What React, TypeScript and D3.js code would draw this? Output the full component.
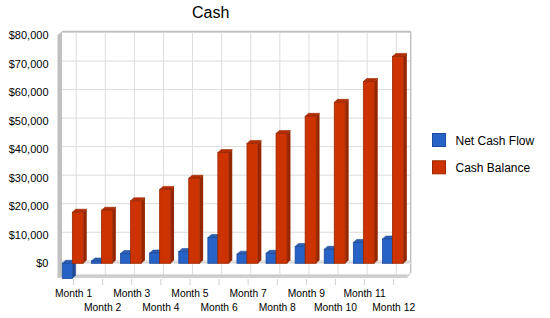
import React from "react";
import * as d3 from "d3";

const months = ["Month 1","Month 2","Month 3","Month 4","Month 5","Month 6","Month 7","Month 8","Month 9","Month 10","Month 11","Month 12"];
const netCashFlow = [-5300, 800, 3400, 3600, 4100, 9000, 3200, 3500, 5900, 4900, 7300, 8500];
const cashBalance = [17900, 18600, 21900, 25900, 29800, 38800, 42000, 45500, 51500, 56400, 63700, 72500];
const yTicks = [0, 10000, 20000, 30000, 40000, 50000, 60000, 70000, 80000];
const seriesNames = ["Net Cash Flow", "Cash Balance"];

const W = 550, H = 318;
const font = "'Liberation Sans', Arial, sans-serif";

const colors = [
  { front: "#2763c6", side: "#1b4794", top: "#2f5fb0", stroke: "#1d4a9c" },
  { front: "#cc3300", side: "#962600", top: "#b32d00", stroke: "#9a2800" },
];

export default function App() {
  const x = d3.scaleBand<string>().domain(months).range([58, 407.2]);
  const y = d3.scaleLinear().domain([0, 80000]).range([263.3, 35]);
  const bw = x.bandwidth();
  const fmt = (v: number) => "$" + d3.format(",")(v);
  const backL = 62, backR = 410.7, backT = 31.5, floorBack = 262.5, floorFront = 275, floorBottom = 278;
  const gy = (v: number) => y(v) - 2.5;
  const sideW = 3.4, topH = 3;

  const bar = (cx: number, v: number, s: number, key: string) => {
    const c = colors[s];
    const x0 = s === 0 ? cx - 10.2 : cx - 0.2;
    const x1 = s === 0 ? cx - 0.2 : cx + 10.8;
    const y0 = y(0);
    const yv = y(v);
    const top = Math.min(y0, yv), bot = Math.max(y0, yv);
    return (
      <g key={key}>
        <polygon points={`${x1},${top} ${x1 + sideW},${top - topH} ${x1 + sideW},${bot - topH} ${x1},${bot}`} fill={c.side} />
        <polygon points={`${x0},${top} ${x0 + sideW},${top - topH} ${x1 + sideW},${top - topH} ${x1},${top}`} fill={c.top} stroke={c.stroke} strokeWidth={0.6} />
        <rect x={x0} y={top} width={x1 - x0} height={bot - top} fill={c.front} stroke={c.stroke} strokeWidth={0.8} />
      </g>
    );
  };

  return (
    <div style={{ position: "fixed", left: 0, top: 0 }}>
      <svg width={W} height={H} style={{ display: "block", background: "#fff" }}>
        <text x={210.7} y={17.5} textAnchor="middle" fontFamily={font} fontSize={16} fill="#000">Cash</text>

        {/* back wall */}
        <rect x={backL} y={backT} width={backR - backL} height={floorBack - backT} fill="#fff" />
        {yTicks.map((v) => (
          <line key={"gy" + v} x1={backL} x2={backR} y1={gy(v)} y2={gy(v)} stroke="#dcdcdc" strokeWidth={1} />
        ))}
        {months.map((m) => {
          const cx = (x(m) as number) + bw / 2 + 3.6;
          return <line key={"gx" + m} x1={cx} x2={cx} y1={backT} y2={floorBack} stroke="#dcdcdc" strokeWidth={1} />;
        })}
        <line x1={backL} x2={backR} y1={backT} y2={backT} stroke="#c0c0c0" strokeWidth={1.5} />
        <line x1={backR} x2={backR} y1={backT} y2={273} stroke="#c0c0c0" strokeWidth={1.5} />

        {/* floor */}
        <polygon points={`${backL},${floorBack} ${backR},${floorBack} ${backR - 4},${floorFront} 58,${floorFront}`} fill="#fff" />
        <line x1={backL} x2={backR} y1={floorBack} y2={floorBack} stroke="#d6d6d6" strokeWidth={2} />
        {months.map((m) => {
          const cx = (x(m) as number) + bw / 2 + 3.6;
          return <line key={"fx" + m} x1={cx} x2={cx} y1={floorBack} y2={floorFront} stroke="#dcdcdc" strokeWidth={1} />;
        })}
        <polygon points={`58,${floorFront} ${backR - 4},${floorFront} ${backR},${floorFront - 2} ${backR},${floorBottom - 4} ${backR - 4},${floorBottom} 58,${floorBottom}`} fill="#d0d0d0" />
        <line x1={58} x2={backR - 4} y1={floorFront} y2={floorFront} stroke="#c4c4c4" strokeWidth={1} />

        {/* left wall */}
        <polygon points={`57.5,35 ${backL},${backT} ${backL},${floorFront} 57.5,${floorBottom}`} fill="#c0c0c0" />

        {/* bars */}
        {months.map((m, i) => {
          const cx = (x(m) as number) + bw / 2;
          return (
            <g key={"b" + m}>
              {bar(cx, netCashFlow[i], 0, "n" + i)}
              {bar(cx, cashBalance[i], 1, "c" + i)}
            </g>
          );
        })}

        {/* x ticks & labels */}
        {months.map((m, i) => {
          const cx = (x(m) as number) + bw / 2 + 1;
          return (
            <g key={"xl" + m}>
              <line x1={cx} x2={cx} y1={279} y2={285} stroke="#d0d0d0" strokeWidth={1} />
              <text x={cx} y={i % 2 === 0 ? 297 : 310.5} textAnchor="middle" fontFamily={font} fontSize={10.3} fill="#000">{m}</text>
            </g>
          );
        })}

        {/* y labels */}
        {yTicks.map((v) => (
          <text key={"yl" + v} x={48.5} y={y(v) + 4} textAnchor="end" fontFamily={font} fontSize={11} fill="#000">{fmt(v)}</text>
        ))}

        {/* legend */}
        {seriesNames.map((n, i) => (
          <g key={"lg" + n}>
            <rect x={432.5} y={133.5 + i * 27.3} width={13} height={13} fill={colors[i].front} stroke={colors[i].stroke} strokeWidth={1} />
            <text x={455.5} y={145 + i * 27.3} fontFamily={font} fontSize={12} fill="#000">{n}</text>
          </g>
        ))}
      </svg>
    </div>
  );
}
